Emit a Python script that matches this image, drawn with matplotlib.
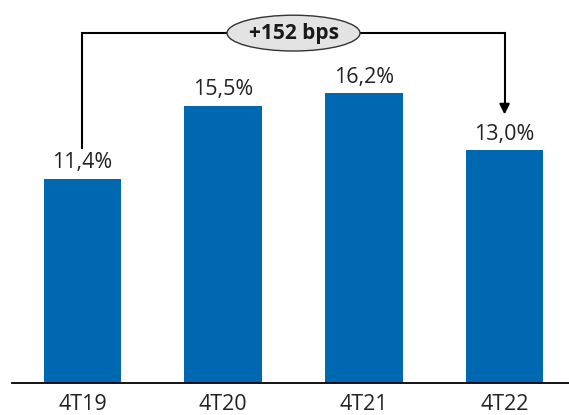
import matplotlib.pyplot as plt
from matplotlib.patches import Ellipse

periods = ["4T19", "4T20", "4T21", "4T22"]
values = [11.4, 15.5, 16.2, 13.0]
labels = ["11,4%", "15,5%", "16,2%", "13,0%"]
delta_text = "+152 bps"

plt.rcParams['font.family'] = ['Open Sans', 'DejaVu Sans']

fig = plt.figure(figsize=(5.69, 4.15), dpi=100)
ax = fig.add_axes([12 / 569, 32 / 415, 557 / 569, 383 / 415])

x = list(range(len(periods)))
ax.bar(x, values, width=0.55, color="#0067B1")

for xi, v, lab in zip(x, values, labels):
    ax.annotate(lab, (xi, v), xytext=(0, 4), textcoords="offset points",
                ha="center", va="bottom", fontsize=15.5, color="#222222")

# bracket from first to last bar
y_top = 19.55
ax.plot([0, 0, 3, 3], [values[0] + 1.75, y_top, y_top, values[3] + 2.3],
        color="black", lw=1.5, solid_joinstyle="miter")
ax.annotate("", xy=(3, values[3] + 1.85), xytext=(3, values[3] + 2.6),
            arrowprops=dict(arrowstyle="-|>", color="black", lw=1.5,
                            mutation_scale=15))
ax.add_patch(Ellipse((1.5, y_top), 0.945, 2.0, facecolor="#E3E3E3",
                     edgecolor="#333333", lw=1.0, zorder=3))
ax.text(1.5, y_top, delta_text, ha="center", va="center", fontsize=15,
        fontweight="bold", color="#1a1a1a", zorder=4)

ax.set_xlim(-0.501, 3.458)
ax.set_ylim(0, 21.4)
ax.set_xticks(x)
ax.set_xticklabels(periods, fontsize=15.5, color="#222222")
ax.tick_params(axis="x", length=0, pad=8)
ax.set_yticks([])
for s in ["top", "right", "left"]:
    ax.spines[s].set_visible(False)
ax.spines["bottom"].set_linewidth(1.3)
ax.patch.set_alpha(0)

fig.savefig("out.png", dpi=100)
